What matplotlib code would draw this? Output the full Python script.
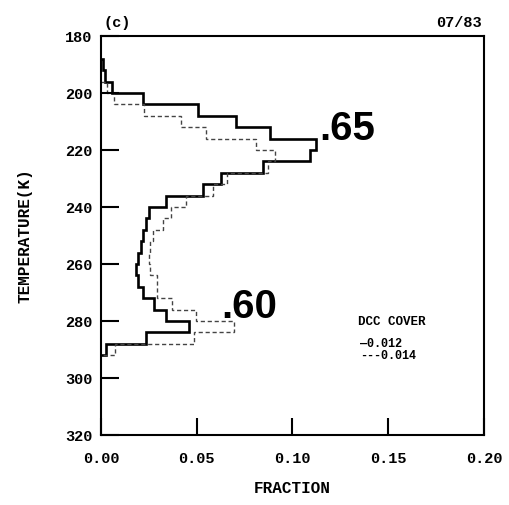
import numpy as np
import matplotlib
matplotlib.use('Agg')
import matplotlib.pyplot as plt

# temperature bin edges (K) and fraction of occurrence per bin
edges_012 = [188, 192, 196, 200, 204, 208, 212, 216, 220, 224, 228, 232, 236,
             240, 244, 248, 252, 256, 260, 264, 268, 272, 276, 280, 284, 288, 292]
frac_012 = [0.001, 0.002, 0.006, 0.022, 0.0505, 0.0705, 0.088, 0.1125, 0.109,
            0.0845, 0.0625, 0.0535, 0.034, 0.025, 0.0236, 0.0218, 0.021, 0.0192,
            0.0184, 0.0195, 0.0218, 0.0276, 0.034, 0.0462, 0.0236, 0.0027]

edges_014 = [196, 200, 204, 208, 212, 216, 220, 224, 228, 232, 236, 240, 244,
             248, 252, 256, 260, 264, 268, 272, 276, 280, 284, 288, 292]
frac_014 = [0.003, 0.007, 0.0225, 0.042, 0.055, 0.081, 0.091, 0.087, 0.066,
            0.0584, 0.0445, 0.0368, 0.0323, 0.027, 0.0255, 0.025, 0.0255, 0.029,
            0.0295, 0.037, 0.0497, 0.0697, 0.0488, 0.0075]

yticks = [180, 200, 220, 240, 260, 280, 300, 320]
xticks = [0.00, 0.05, 0.10, 0.15, 0.20]
xticklabels = ['0.00', '0.05', '0.10', '0.15', '0.20']

mono = 'Liberation Mono'

fig = plt.figure(figsize=(5.1, 5.05), dpi=100)
ax = fig.add_axes([0.198, 0.1386, 0.751, 0.790])

ax.stairs(frac_012, edges_012, orientation='horizontal', baseline=0,
          color='black', lw=1.9)
ax.stairs(frac_014, edges_014, orientation='horizontal', baseline=0,
          color='#444444', lw=1.0, linestyle=(0, (3, 2)))

ax.set_xlim(0, 0.2)
ax.set_ylim(320, 180)
ax.set_yticks(yticks)
ax.set_yticklabels([str(t) for t in yticks], fontfamily=mono, fontweight='bold', fontsize=11)
ax.set_xticks(xticks)
ax.set_xticklabels(xticklabels, fontfamily=mono, fontweight='bold', fontsize=11)
ax.tick_params(axis='y', direction='in', length=13, width=1.5, pad=6)
ax.tick_params(axis='x', direction='in', length=12, width=1.5, pad=12)

for s in ax.spines.values():
    s.set_linewidth(1.5)

ax.set_ylabel('TEMPERATURE(K)', fontfamily=mono, fontweight='bold', fontsize=11.5)
ax.yaxis.set_label_coords(-0.18, 0.5)
ax.set_xlabel('FRACTION', fontfamily=mono, fontweight='bold', fontsize=11.5)
ax.xaxis.set_label_coords(0.5, -0.115)

fig.text(0.202, 0.947, '(c)', fontfamily=mono, fontweight='bold', fontsize=11)
fig.text(0.945, 0.947, '07/83', fontfamily=mono, fontweight='bold', fontsize=11, ha='right')

# legend block
ax.text(0.671, 0.276, 'DCC COVER', transform=ax.transAxes, fontfamily=mono,
        fontweight='bold', fontsize=9)
ax.text(0.676, 0.220, '\u20140.012', transform=ax.transAxes, fontfamily=mono,
        fontweight='bold', fontsize=8.5)
ax.text(0.676, 0.190, '---0.014', transform=ax.transAxes, fontfamily=mono,
        fontweight='bold', fontsize=8.5)

# cloud-top labels
ax.text(0.114, 216.5, '.65', fontfamily='Liberation Sans', fontweight='bold',
        fontsize=29, va='baseline')
ax.text(0.063, 279, '.60', fontfamily='Liberation Sans', fontweight='bold',
        fontsize=29, va='baseline')

fig.savefig('out.png', dpi=100)
